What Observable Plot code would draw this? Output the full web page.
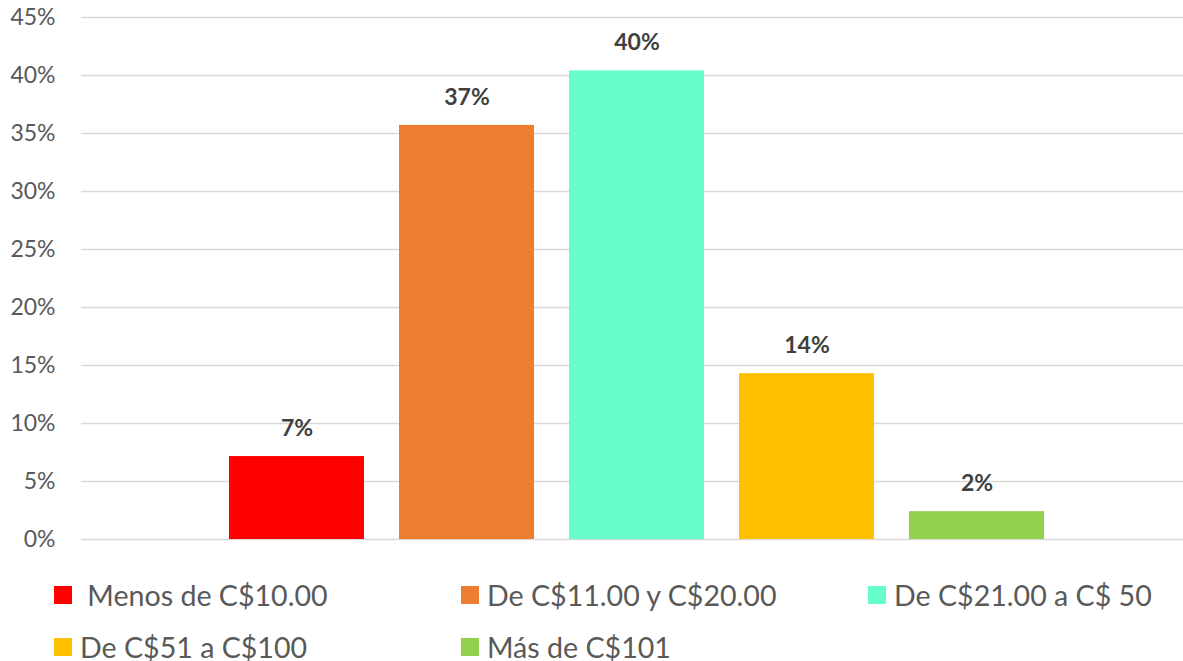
<!DOCTYPE html>
<html>
<head>
<meta charset="utf-8">
<script src="https://cdn.jsdelivr.net/npm/d3@7"></script>
<script src="https://cdn.jsdelivr.net/npm/@observablehq/plot@0.6"></script>
<style>
  html, body { margin: 0; padding: 0; background: #fff; }
  #wrap { width: 1183px; height: 661px; position: relative; font-family: Lato, "Open Sans", sans-serif; }
  #chart svg { display: block; }
  #legend { display: grid; grid-template-columns: 407px 407px 315px; row-gap: 24px; padding-left: 54px; padding-top: 12px; }
  .item { display: flex; align-items: center; height: 28px; font-size: 28.6px; line-height: 28px; color: #595959; white-space: pre; }
  .sw { width: 18px; height: 18px; margin-right: 8px; flex: none; }
</style>
</head>
<body>
<div id="wrap"><div id="chart"></div><div id="legend"></div></div>
<script>
const categories = [" Menos de C$10.00", "De C$11.00 y C$20.00", "De C$21.00 a C$ 50", "De C$51 a C$100", "Más de C$101"];
const values = [7.15, 35.7, 40.4, 14.3, 2.4];
const valueLabels = ["7%", "37%", "40%", "14%", "2%"];
const colors = ["#FF0000", "#ED7D31", "#66FFCC", "#FFC000", "#92D050"];
const yTicks = [0, 5, 10, 15, 20, 25, 30, 35, 40, 45];

const data = categories.map((c, i) => ({category: c, value: values[i], label: valueLabels[i]}));

const chart = Plot.plot({
  width: 1183,
  height: 569,
  marginLeft: 81,
  marginRight: 0,
  marginTop: 17,
  marginBottom: 30,
  style: {fontFamily: "Lato, 'Open Sans', sans-serif", background: "#fff"},
  x: {domain: categories, paddingInner: 0.208, paddingOuter: 0.836, align: 0.516, axis: null},
  y: {domain: [0, 45], ticks: yTicks, axis: null},
  color: {domain: categories, range: colors},
  marks: [
    Plot.gridY(yTicks, {stroke: "#d9d9d9", strokeOpacity: 1, strokeWidth: 1.6}),
    Plot.axisY(yTicks, {tickSize: 0, tickPadding: 26, tickFormat: d => d + "%", fontSize: 23, fill: "#595959", label: null}),
    Plot.barY(data, {x: "category", y: "value", fill: "category"}),
    Plot.text(data, {x: "category", y: "value", text: "label", dy: -28, fontSize: 23, fontWeight: "bold", fill: "#404040"})
  ]
});
document.getElementById("chart").appendChild(chart);

const legend = document.getElementById("legend");
categories.forEach((c, i) => {
  const it = document.createElement("div");
  it.className = "item";
  const sw = document.createElement("span");
  sw.className = "sw";
  sw.style.background = colors[i];
  const t = document.createElement("span");
  t.textContent = c;
  it.appendChild(sw); it.appendChild(t);
  legend.appendChild(it);
});
</script>
</body>
</html>
